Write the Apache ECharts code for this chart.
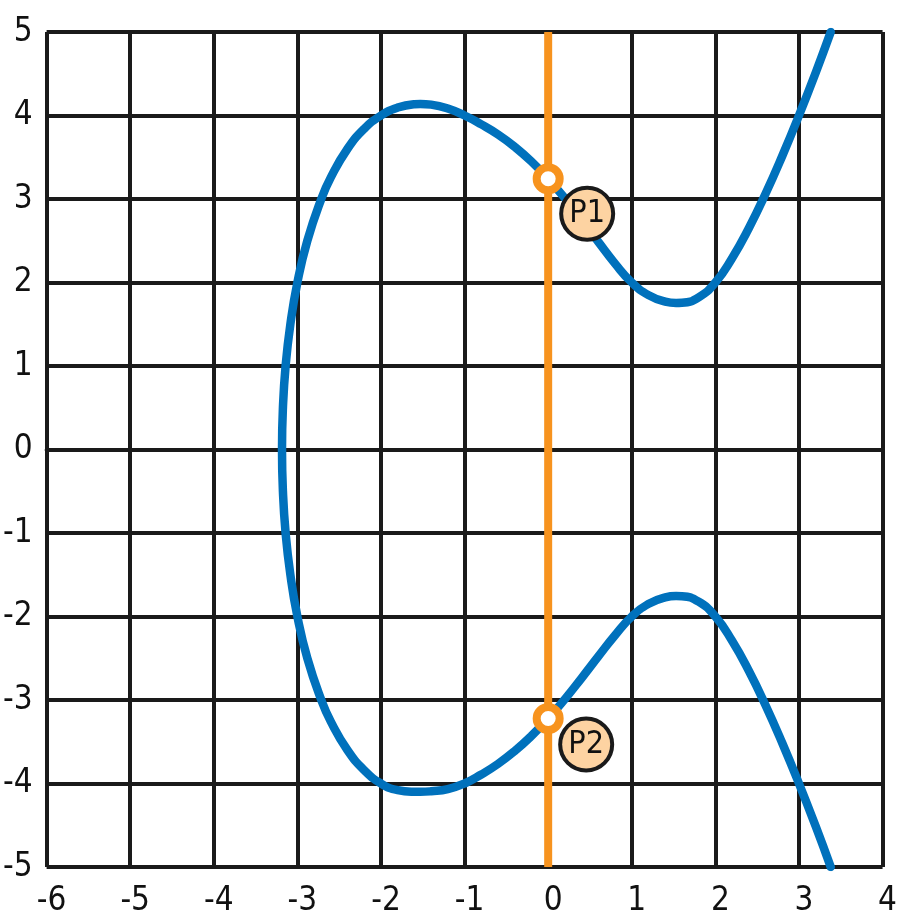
<!DOCTYPE html>
<html>
<head>
<meta charset="utf-8">
<script src="https://cdn.jsdelivr.net/npm/echarts@6/dist/echarts.min.js"></script>
<style>
html,body{margin:0;padding:0;background:#fff;}
#chart{width:900px;height:921px;}
</style>
</head>
<body>
<div id="chart"></div>
<script>
// Curve points: upper branch (right to left), then lower branch (left to right)
const curveX = [3.38, 3.2, 3.0, 2.8, 2.6, 2.4, 2.2, 2.0, 1.8, 1.6, 1.53, 1.4, 1.2, 1.0, 0.8, 0.6, 0.4, 0.2, 0.0, -0.2, -0.4, -0.6, -0.8, -1.0, -1.2, -1.4, -1.53, -1.6, -1.8, -2.0, -2.2, -2.4, -2.6, -2.714, -2.881, -3.0, -3.084, -3.141, -3.173, -3.184,
  -3.173, -3.141, -3.084, -3.0, -2.881, -2.714, -2.6, -2.4, -2.2, -2.0, -1.8, -1.6, -1.53, -1.4, -1.2, -1.0, -0.8, -0.6, -0.4, -0.2, 0.0, 0.2, 0.4, 0.6, 0.8, 1.0, 1.2, 1.4, 1.53, 1.6, 1.8, 2.0, 2.2, 2.4, 2.6, 2.8, 3.0, 3.2, 3.38];
const curveY = [5.0, 4.513, 4.0, 3.515, 3.062, 2.65, 2.291, 2.0, 1.823, 1.757, 1.755, 1.771, 1.849, 2.0, 2.226, 2.486, 2.751, 3.008, 3.242, 3.449, 3.625, 3.773, 3.894, 4.0, 4.083, 4.13, 4.139, 4.136, 4.095, 4.0, 3.841, 3.602, 3.259, 3.0, 2.5, 2.0, 1.5, 1.0, 0.5, 0.0,
  -0.5, -1.0, -1.5, -2.0, -2.5, -3.0, -3.259, -3.602, -3.841, -4.0, -4.079, -4.099, -4.1, -4.093, -4.067, -4.0, -3.892, -3.765, -3.611, -3.43, -3.222, -2.989, -2.737, -2.478, -2.224, -2.0, -1.849, -1.771, -1.755, -1.757, -1.823, -2.0, -2.291, -2.65, -3.062, -3.515, -4.0, -4.513, -5.0];

// Vertical line x = 0
const lineX = [0, 0];
const lineY = [-5, 5];

// Intersection points
const pointNames = ['P1', 'P2'];
const pointX = [0, 0];
const pointY = [3.242, -3.222];

const xMin = -6, xMax = 4, yMin = -5, yMax = 5;

const labelFont = "'Liberation Sans Narrow', 'DejaVu Sans Condensed', 'Open Sans', sans-serif";
const gridColor = '#1a1a1a';

const chart = echarts.init(document.getElementById('chart'), null, {renderer: 'canvas'});

const labelOffsets = [[39, 35], [38, 26]];

chart.setOption({
  animation: false,
  backgroundColor: '#ffffff',
  grid: {left: 43.5, right: 13.5, top: 32, bottom: 54, containLabel: false},
  xAxis: {
    type: 'value', min: xMin, max: xMax, interval: 1,
    axisLine: {show: true, lineStyle: {color: gridColor, width: 4}},
    axisTick: {show: false},
    splitLine: {show: true, lineStyle: {color: gridColor, width: 4}},
    axisLabel: {fontFamily: labelFont, fontSize: 33, color: '#111', margin: 18, padding: [0, 0, 0, 10]}
  },
  yAxis: {
    type: 'value', min: yMin, max: yMax, interval: 1,
    axisLine: {show: true, lineStyle: {color: gridColor, width: 4}},
    axisTick: {show: false},
    splitLine: {show: true, lineStyle: {color: gridColor, width: 4}},
    axisLabel: {fontFamily: labelFont, fontSize: 33, color: '#111', margin: 14, padding: [0, 0, 6, 0]}
  },
  series: [
    {
      type: 'line',
      data: curveX.map((x, i) => [x, curveY[i]]),
      smooth: 0.5,
      symbol: 'none',
      lineStyle: {color: '#0071bc', width: 8.5, cap: 'round', join: 'round'},
      z: 3
    },
    {
      type: 'line',
      data: lineX.map((x, i) => [x, lineY[i]]),
      symbol: 'none',
      lineStyle: {color: '#f7931e', width: 8},
      z: 4
    },
    {
      type: 'scatter',
      data: pointX.map((x, i) => ({
        value: [x, pointY[i]],
        name: pointNames[i],
        label: {offset: labelOffsets[i]}
      })),
      symbol: 'circle',
      symbolSize: 23,
      itemStyle: {color: '#ffffff', borderColor: '#f7931e', borderWidth: 8, opacity: 1},
      label: {
        show: true,
        position: 'inside',
        formatter: p => p.name,
        fontFamily: labelFont,
        fontSize: 32,
        color: '#111',
        width: 48,
        height: 48,
        lineHeight: 48,
        align: 'center',
        verticalAlign: 'middle',
        backgroundColor: '#fdd3a2',
        borderColor: '#1a1a1a',
        borderWidth: 4,
        borderRadius: 26
      },
      z: 5
    }
  ]
});
</script>
</body>
</html>
